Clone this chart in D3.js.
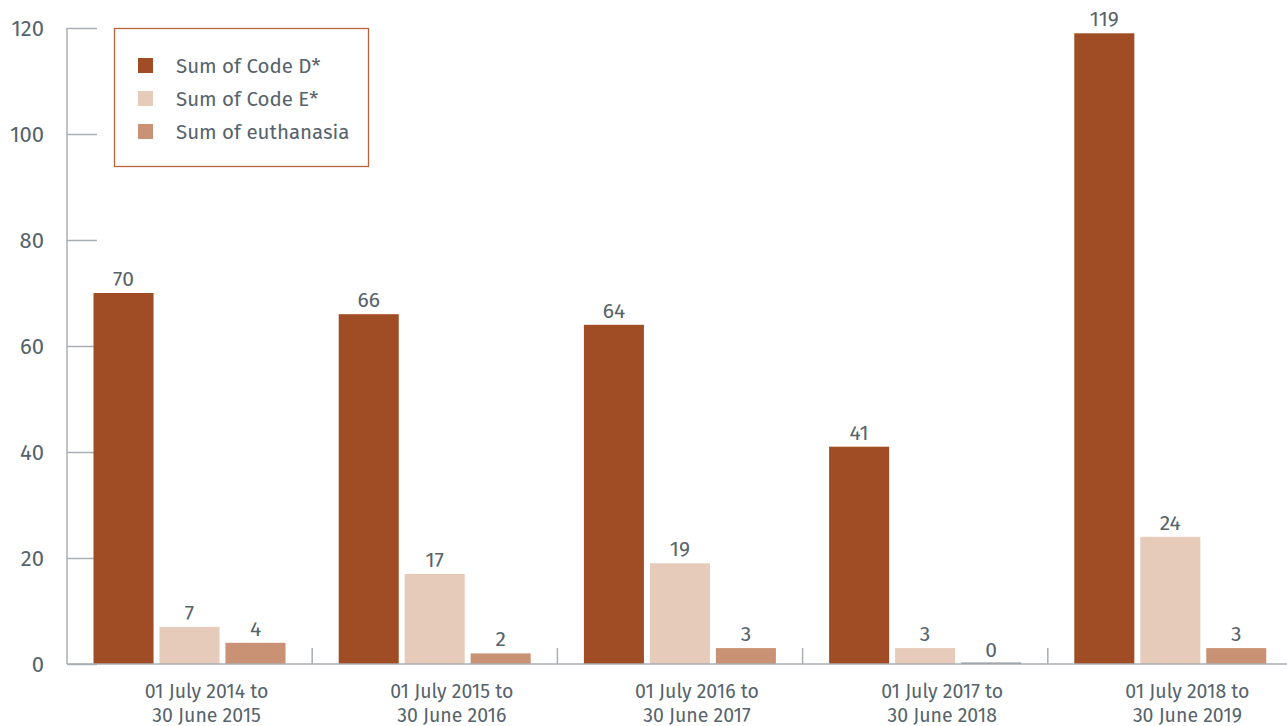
<!DOCTYPE html>
<html><head><meta charset="utf-8">
<script src="https://cdn.jsdelivr.net/npm/d3@7"></script>
<style>
html,body{margin:0;padding:0;background:#fff;}
svg{display:block;}
text{font-family:"Fira Sans","Lato","Open Sans",sans-serif;fill:#56636b;}
</style></head><body>
<svg id="chart" width="1287" height="726"></svg>
<script>
const categories = [["01 July 2014 to","30 June 2015"],["01 July 2015 to","30 June 2016"],["01 July 2016 to","30 June 2017"],["01 July 2017 to","30 June 2018"],["01 July 2018 to","30 June 2019"]];
const seriesNames = ["Sum of Code D*","Sum of Code E*","Sum of euthanasia"];
const codeD = [70,66,64,41,119];
const codeE = [7,17,19,3,24];
const euthanasia = [4,2,3,0,3];
const yTicks = [0,20,40,60,80,100,120];
const colors = ["#a04c24","#e6cbbb","#c99274"];

const series = [codeD, codeE, euthanasia];
const svg = d3.select("#chart");
const x0 = 67, x1 = 1293, yTop = 28, yBot = 664;
const x = d3.scaleBand().domain(d3.range(categories.length)).range([x0, x1]).paddingInner(0).paddingOuter(0);
const inner = d3.scaleBand().domain(d3.range(3)).range([26.5, 26.5 + 192]).paddingInner(0.09);
const y = d3.scaleLinear().domain([0,120]).range([yBot, yTop]);

// y axis
const yAxis = d3.axisRight(y).tickValues(yTicks).tickSize(30).tickFormat("");
const gy = svg.append("g").attr("transform", `translate(${x0},0)`).call(yAxis);
gy.select(".domain").remove();
gy.selectAll(".tick line").attr("stroke","#a8aeb3").attr("stroke-width",1.5);
svg.append("line").attr("x1",x0).attr("x2",x0).attr("y1",yTop).attr("y2",yBot).attr("stroke","#a8aeb3").attr("stroke-width",1.5);
svg.selectAll(".ylab").data(yTicks).join("text").attr("class","ylab")
  .attr("x",44).attr("y",d=>y(d)+8).attr("text-anchor","end").attr("font-size",22).text(d=>d);

// bars
categories.forEach((c,i)=>{
  series.forEach((s,j)=>{
    const v = s[i];
    const bx = x(i) + inner(j);
    if (v > 0) {
      svg.append("rect").attr("x",bx).attr("y",y(v)).attr("width",inner.bandwidth()).attr("height",y(0)-y(v)).attr("fill",colors[j]);
    } else {
      svg.append("rect").attr("x",bx).attr("y",y(0)-1.5).attr("width",inner.bandwidth()).attr("height",1.5).attr("fill","#8c9196");
    }
    svg.append("text").attr("x",bx+inner.bandwidth()/2).attr("y",y(v)-7).attr("text-anchor","middle").attr("font-size",21).text(v);
  });
});

// x axis
svg.append("line").attr("x1",x0).attr("x2",1287).attr("y1",yBot).attr("y2",yBot).attr("stroke","#a8aeb3").attr("stroke-width",1.5);
d3.range(1,categories.length).forEach(i=>{
  svg.append("line").attr("x1",x(i)).attr("x2",x(i)).attr("y1",yBot-16).attr("y2",yBot).attr("stroke","#a8aeb3").attr("stroke-width",1.5);
});
categories.forEach((c,i)=>{
  const cx = x(i) + x.bandwidth()/2 + 17;
  const t = svg.append("text").attr("x",cx).attr("y",698).attr("text-anchor","middle").attr("font-size",19.5);
  t.append("tspan").attr("x",cx).text(c[0]);
  t.append("tspan").attr("x",cx).attr("y",722).text(c[1]);
});

// legend
svg.append("rect").attr("x",114.5).attr("y",28.5).attr("width",254).attr("height",138).attr("fill","#fff").attr("stroke","#b5643c").attr("stroke-width",1.3);
seriesNames.forEach((n,j)=>{
  const ly = 58 + j*33;
  svg.append("rect").attr("x",138).attr("y",ly).attr("width",15).attr("height",15).attr("fill",colors[j]);
  svg.append("text").attr("x",176).attr("y",ly+15).attr("font-size",20.5).text(n);
});
</script></body></html>
